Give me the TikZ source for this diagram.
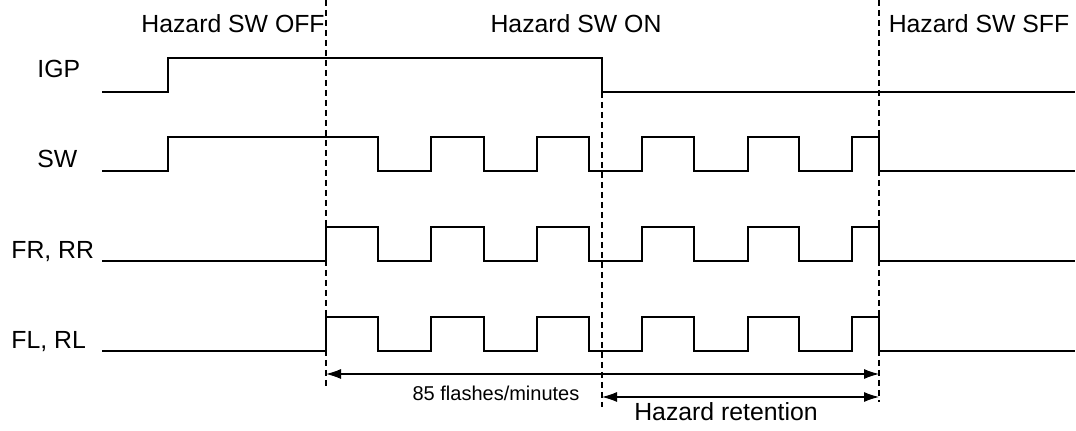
\documentclass[tikz,border=0pt]{standalone}
\usepackage{fontspec}
\setmainfont{Liberation Sans}
\usetikzlibrary{arrows.meta}

% pulse train of the flasher, #1 = low level, #2 = high level
\newcommand{\flashtrain}[2]{%
  \foreach \up/\dn in {431/484,537/589,642/694,748/799,852/879}{ -| (\up,#2) -| (\dn,#1)}}

\begin{document}
\begin{tikzpicture}[
  x=0.5pt, y=-0.5pt,
  signal/.style={line width=1pt, line join=miter},
  border/.style={dash pattern=on 3pt off 2pt, line width=0.9pt},
  span/.style={{Latex[length=7.5pt,width=5pt]}-{Latex[length=7.5pt,width=5pt]}, line width=0.55pt},
  rowname/.style={anchor=base west, inner sep=0pt, font=\fontsize{12.4}{15}\selectfont},
  phase/.style={anchor=base, inner sep=0pt, font=\fontsize{12.4}{15}\selectfont}
]
\useasboundingbox (0,0) rectangle (1076,431);

% phase headers
\node[phase] (off) at (233,33) {Hazard SW OFF};
\node[phase] (on) at (576,33) {Hazard SW ON};
\node[phase] (sff) at (979,33) {Hazard SW SFF};

% signal names
\node[rowname] (igp) at (37,78) {IGP};
\node[rowname] (sw) at (37,168) {SW};
\node[rowname] (frrr) at (11,259) {FR, RR};
\node[rowname] (flrl) at (11,349) {FL, RL};

% phase borders
\coordinate (b1top) at (326,0);
\coordinate (b1bot) at (326,387);
\coordinate (b2top) at (602,92);
\coordinate (b2bot) at (602,407);
\coordinate (b3top) at (879,0);
\coordinate (b3bot) at (879,402);
\draw[border] (b1top) -- (b1bot);
\draw[border] (b2top) -- (b2bot);
\draw[border] (b3top) -- (b3bot);

% waveforms
\draw[signal] (102,92) -| (168,58) -| (602,92) -- (1075,92);
\draw[signal] (102,171) -| (168,137) -| (378,171) \flashtrain{171}{137} -- (1075,171);
\draw[signal] (102,261) -| (326,227) -| (378,261) \flashtrain{261}{227} -- (1075,261);
\draw[signal] (102,351) -| (326,317) -| (378,351) \flashtrain{351}{317} -- (1075,351);

% time spans
\coordinate (s1l) at (326,374);
\coordinate (s1r) at (879,374);
\coordinate (s2l) at (602,397);
\coordinate (s2r) at (879,397);
\draw[span] (s1l) -- (s1r);
\draw[span] (s2l) -- (s2r);
\node[anchor=base, inner sep=0pt, font=\fontsize{10}{12}\selectfont] (rate) at (496,401) {85 flashes/minutes};
\node[phase] (keep) at (726,421) {Hazard retention};
\end{tikzpicture}
\end{document}
